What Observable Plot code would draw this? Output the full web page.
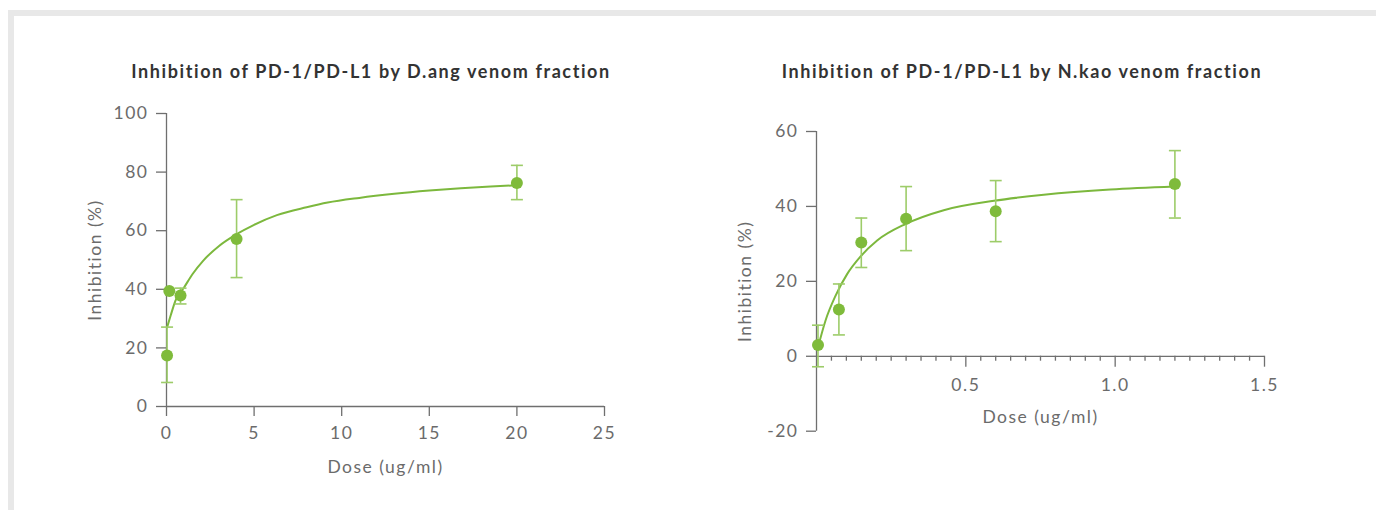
<!DOCTYPE html>
<html>
<head>
<meta charset="utf-8">
<script src="https://cdn.jsdelivr.net/npm/d3@7"></script>
<script src="https://cdn.jsdelivr.net/npm/@observablehq/plot@0.6"></script>
<style>
  html, body { margin: 0; padding: 0; background: #fff; }
  body { width: 1376px; height: 510px; position: relative; overflow: hidden; font-family: Lato, "Open Sans", sans-serif; }
  .frame { position: absolute; left: 8px; top: 10px; right: 0; bottom: -10px; border-top: 6px solid #e8e8e8; border-left: 6px solid #e8e8e8; }
  .title { position: absolute; top: 60px; font-weight: 700; font-size: 18px; color: #333; letter-spacing: 1.6px; white-space: nowrap; transform: translateX(-50%); }
  .chart { position: absolute; top: 90px; }
  .chart svg text { letter-spacing: 1.5px; }
</style>
</head>
<body>
<div class="frame"></div>
<div class="title" style="left:371px">Inhibition of PD-1/PD-L1 by D.ang venom fraction</div>
<div class="title" style="left:1022px">Inhibition of PD-1/PD-L1 by N.kao venom fraction</div>
<div id="left" class="chart" style="left:0px"></div>
<div id="right" class="chart" style="left:700px"></div>
<script>
// ---------- data ----------
const xLabel = "Dose (ug/ml)";
const yLabel = "Inhibition (%)";

// D.ang venom fraction
const leftDose = [0.032, 0.16, 0.8, 4, 20];
const leftMean = [17.4, 39.4, 37.9, 57.2, 76.3];
const leftLow  = [8.2, null, 35.0, 44.0, 70.6];
const leftHigh = [27.1, null, 40.4, 70.6, 82.3];
const leftFitX = [0.032, 0.25, 0.5, 1, 1.5, 2.1, 3, 4, 5, 6.3, 8, 9.2, 11, 13, 15, 16.8, 18.5, 20];
const leftFitY = [27.0, 31.3, 36.0, 40.6, 45.3, 49.8, 54.8, 58.8, 62.0, 65.3, 68.0, 69.6, 71.2, 72.6, 73.7, 74.5, 75.1, 75.5];
const leftXTicks = [0, 5, 10, 15, 20, 25];
const leftYTicks = [0, 20, 40, 60, 80, 100];

// N.kao venom fraction
const rightDose = [0.005, 0.075, 0.15, 0.3, 0.6, 1.2];
const rightMean = [3.0, 12.5, 30.4, 36.7, 38.7, 46.0];
const rightLow  = [-2.8, 5.7, 23.7, 28.2, 30.6, 36.9];
const rightHigh = [8.3, 19.3, 36.9, 45.3, 46.9, 54.9];
const rightFitX = [0.005, 0.03, 0.064, 0.103, 0.147, 0.203, 0.298, 0.426, 0.594, 0.761, 0.984, 1.2];
const rightFitY = [2.4, 9.5, 16.2, 22.0, 26.6, 30.9, 35.3, 39.0, 41.5, 43.1, 44.5, 45.3];
const rightXMajor = [0.5, 1.0, 1.5];
const rightXMinor = [0.05,0.1,0.15,0.2,0.25,0.3,0.35,0.4,0.45,0.55,0.6,0.65,0.7,0.75,0.8,0.85,0.9,0.95,1.05,1.1,1.15,1.2,1.25,1.3,1.35,1.4,1.45];
const rightYTicks = [-20, 0, 20, 40, 60];

// ---------- styles ----------
const axisColor = "#6f6f6f";
const labelColor = "#6b6b6b";
const dotColor = "#7fbb3b";
const errColor = "#9dcc69";
const lineColor = "#7cb83d";
const capSymbol = { draw(ctx) { ctx.moveTo(-6, 0); ctx.lineTo(6, 0); } };
const plainNum = d => String(d);

function rows(dose, mean, low, high) {
  return dose.map((d, i) => ({dose: d, mean: mean[i], low: low[i], high: high[i]}));
}
function fit(xs, ys) { return xs.map((x, i) => ({x, y: ys[i]})); }

const baseStyle = {fontFamily: "Lato, 'Open Sans', sans-serif", fontSize: "17.5px", color: labelColor, background: "transparent", overflow: "visible"};

function dataMarks(pts, curve) {
  const withErr = pts.filter(d => d.low != null);
  return [
    Plot.line(curve, {x: "x", y: "y", curve: "monotone-x", stroke: lineColor, strokeWidth: 2}),
    Plot.ruleX(withErr, {x: "dose", y1: "low", y2: "high", stroke: errColor, strokeWidth: 1.6}),
    Plot.dot(withErr, {x: "dose", y: "low", symbol: capSymbol, stroke: errColor, strokeWidth: 1.6}),
    Plot.dot(withErr, {x: "dose", y: "high", symbol: capSymbol, stroke: errColor, strokeWidth: 1.6}),
    Plot.dot(pts, {x: "dose", y: "mean", r: 6, fill: dotColor})
  ];
}

const leftPts = rows(leftDose, leftMean, leftLow, leftHigh);
const leftPlot = Plot.plot({
  width: 700, height: 420,
  marginTop: 23, marginBottom: 104, marginLeft: 166, marginRight: 96,
  style: baseStyle,
  x: {domain: [0, 25]},
  y: {domain: [0, 100]},
  marks: [
    Plot.axisY({ticks: leftYTicks, tickSize: 10, tickPadding: 8, tickFormat: plainNum, label: null, stroke: axisColor, strokeWidth: 1.3, fill: labelColor}),
    Plot.axisX({ticks: leftXTicks, tickSize: 10, tickPadding: 10, tickFormat: plainNum, label: null, stroke: axisColor, strokeWidth: 1.3, fill: labelColor}),
    Plot.ruleX([0], {y1: 0, y2: 100, stroke: axisColor, strokeWidth: 1.3}),
    Plot.ruleY([0], {x1: 0, x2: 25, stroke: axisColor, strokeWidth: 1.3}),
    Plot.text([xLabel], {text: d => d, frameAnchor: "bottom", lineAnchor: "middle", dy: 61, fill: labelColor, fontSize: 17.5}),
    Plot.text([yLabel], {text: d => d, frameAnchor: "left", textAnchor: "middle", lineAnchor: "middle", rotate: -90, dx: -71, fill: labelColor, fontSize: 17.5}),
    ...dataMarks(leftPts, fit(leftFitX, leftFitY))
  ]
});
document.getElementById("left").appendChild(leftPlot);

// Right chart: the x axis sits at y = 0, so the frame bottom is placed at y = 0
// and the y range is given explicitly so that -20 lies below it.
const rightPts = rows(rightDose, rightMean, rightLow, rightHigh);
const rightPlot = Plot.plot({
  width: 676, height: 420,
  marginTop: 41, marginBottom: 154.3, marginLeft: 116, marginRight: 112,
  style: baseStyle,
  x: {domain: [0, 1.5]},
  y: {domain: [-20, 60], range: [340.7, 41]},
  marks: [
    Plot.axisY({ticks: rightYTicks, tickSize: 10, tickPadding: 8, tickFormat: plainNum, label: null, stroke: axisColor, strokeWidth: 1.3, fill: labelColor}),
    Plot.axisX({ticks: rightXMajor, tickSize: 11, tickPadding: 11, tickFormat: d3.format(".1f"), label: null, stroke: axisColor, strokeWidth: 1.3, fill: labelColor}),
    Plot.axisX({ticks: rightXMinor, tickSize: 5, tickFormat: () => "", label: null, stroke: axisColor, strokeWidth: 1.3}),
    Plot.ruleX([0], {y1: -20, y2: 60, stroke: axisColor, strokeWidth: 1.3}),
    Plot.ruleY([0], {x1: 0, x2: 1.5, stroke: axisColor, strokeWidth: 1.3}),
    Plot.text([xLabel], {text: d => d, frameAnchor: "bottom", lineAnchor: "middle", dy: 61, fill: labelColor, fontSize: 17.5}),
    Plot.text([yLabel], {text: d => d, y: 20, frameAnchor: "left", textAnchor: "middle", lineAnchor: "middle", rotate: -90, dx: -71, fill: labelColor, fontSize: 17.5}),
    ...dataMarks(rightPts, fit(rightFitX, rightFitY))
  ]
});
document.getElementById("right").appendChild(rightPlot);
</script>
</body>
</html>
